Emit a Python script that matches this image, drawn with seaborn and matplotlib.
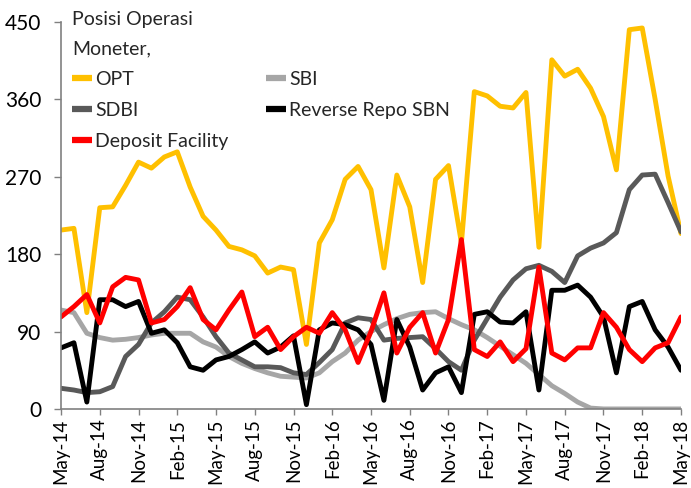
import pandas as pd
import matplotlib
matplotlib.use("Agg")
import matplotlib.pyplot as plt
import seaborn as sns

months = pd.date_range("2014-05-01", "2018-05-01", freq="MS")
month_labels = [m.strftime("%b-%y") for m in months]

opt = [208, 210, 112, 234, 235, 260, 287, 280, 293, 299,
       258, 224, 208, 189, 185, 178, 158, 165, 162, 75,
       193, 220, 267, 282, 255, 164, 272, 235, 147, 267,
       283, 193, 369, 364, 352, 350, 368, 188, 406, 387,
       395, 373, 340, 278, 441, 443, 360, 271, 204]
sbi = [115, 112, 88, 83, 80, 81, 83, 86, 88, 88,
       88, 78, 72, 61, 53, 47, 42, 38, 37, 36,
       42, 55, 65, 80, 90, 98, 105, 110, 112, 113,
       105, 98, 92, 83, 73, 63, 53, 40, 27, 18,
       8, 1, 0, 0, 0, 0, 0, 0, 0]
sdbi = [24, 22, 19, 20, 26, 61, 75, 100, 113, 130,
        127, 107, 84, 65, 57, 49, 49, 48, 42, 40,
        54, 69, 100, 106, 104, 80, 82, 83, 84, 70,
        55, 45, 80, 105, 130, 150, 163, 167, 160, 147,
        178, 187, 193, 205, 255, 272, 273, 240, 206]
rr_sbn = [71, 77, 8, 127, 127, 119, 125, 88, 92, 77,
          49, 45, 57, 61, 69, 78, 65, 72, 85, 5,
          92, 100, 98, 92, 75, 10, 104, 72, 22, 42,
          49, 19, 110, 113, 101, 100, 113, 22, 138, 138,
          144, 130, 107, 42, 119, 125, 92, 72, 45]
deposit = [107, 119, 133, 100, 142, 153, 150, 100, 104, 119,
           141, 104, 92, 115, 136, 84, 95, 69, 84, 95,
           88, 112, 92, 54, 90, 135, 65, 95, 112, 65,
           104, 197, 69, 61, 78, 55, 70, 165, 65, 57,
           71, 71, 112, 95, 69, 55, 71, 77, 107]

series_names = ["OPT", "SBI", "SDBI", "Reverse Repo SBN", "Deposit Facility"]
colors = ["#FFC000", "#A6A6A6", "#595959", "#000000", "#FF0000"]

df = pd.DataFrame({
    "idx": range(len(months)),
    "OPT": opt,
    "SBI": sbi,
    "SDBI": sdbi,
    "Reverse Repo SBN": rr_sbn,
    "Deposit Facility": deposit,
})
long = df.melt(id_vars="idx", var_name="series", value_name="value")

sns.set_style("white")
plt.rcParams["font.family"] = ["Lato", "DejaVu Sans"]
plt.rcParams["lines.solid_joinstyle"] = "round"
plt.rcParams["lines.solid_capstyle"] = "round"

fig, ax = plt.subplots(figsize=(6.91, 4.88), dpi=100)
fig.subplots_adjust(left=0.0883, right=0.9855, top=0.955, bottom=0.162)

sns.lineplot(data=long, x="idx", y="value", hue="series", hue_order=series_names,
             palette=colors, linewidth=3.5, ax=ax)

ax.set_xlim(0, len(months) - 1)
ax.set_ylim(0, 450)
ax.set_yticks(range(0, 451, 90))
ax.set_xticks(range(0, len(months), 3))
ax.set_xticklabels(month_labels[::3], rotation=90)
ax.set_xlabel("")
ax.set_ylabel("")

for side in ["top", "right"]:
    ax.spines[side].set_visible(False)
for side in ["left", "bottom"]:
    ax.spines[side].set_color("#808080")
    ax.spines[side].set_linewidth(1.2)
ax.tick_params(axis="y", direction="out", length=5, width=1, color="#808080",
               pad=9, labelsize=15, labelcolor="black", left=True)
ax.tick_params(axis="x", direction="out", length=4, width=1, color="#808080",
               pad=3, labelsize=13.5, labelcolor="black", bottom=True)

# legend fills row by row in the reference: reorder for matplotlib's column filling
handles, labels = ax.get_legend_handles_labels()
lookup = dict(zip(labels, handles))
order = ["OPT", "SDBI", "Deposit Facility", "SBI", "Reverse Repo SBN"]
leg = ax.legend([lookup[k] for k in order], order,
                title="Posisi Operasi\nMoneter,", ncol=2, loc="upper left",
                bbox_to_anchor=(72 / 691, 1 - 11 / 488), bbox_transform=fig.transFigure,
                frameon=False, fontsize=14, title_fontsize=14, handlelength=1.05,
                handletextpad=0.15, columnspacing=1.9, labelspacing=0.72,
                borderpad=0, borderaxespad=0, alignment="left")
leg.get_title().set_linespacing(1.85)
for line in leg.get_lines():
    line.set_linewidth(4.5)
    line.set_solid_capstyle("butt")

fig.savefig("out.png", dpi=100)
